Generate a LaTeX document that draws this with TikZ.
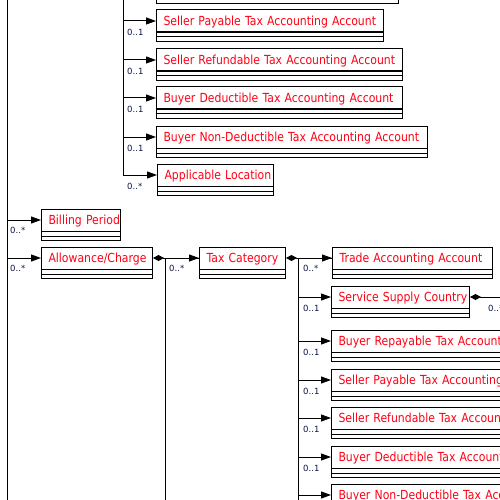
\documentclass[tikz,border=0pt]{standalone}
\usepackage{fontspec}
\setmainfont{DejaVu Sans}
\newfontfamily\clsfamily[FakeStretch=0.87]{DejaVu Sans}
\usetikzlibrary{arrows.meta,calc}
\definecolor{clsred}{RGB}{255,0,20}
\definecolor{multc}{RGB}{10,20,70}
\tikzset{
  ln/.style={line width=1pt, draw=black},
  cls/.style={ln, text=clsred, font=\clsfamily\fontsize{12.5}{14}\selectfont, anchor=west,
    minimum height=22pt, inner ysep=0pt, inner xsep=7pt, align=left,
    text height=9pt, text depth=0pt},
  conn/.style={ln, -{Triangle[length=10pt,width=7pt]}},
  comp/.style={ln, {Diamond[length=11pt,width=6pt]}-},
  mult/.style={text=multc, font=\fontsize{8.5}{9}\selectfont, anchor=west, inner sep=0pt},
}
\newcommand{\umlcls}[5]{%
  \node[cls, minimum width=#4pt, text width=#4pt-14pt] (#1) at (#2,#3) {\mbox{#5}};
  \draw[ln] (#1.south west) rectangle ++(#4,9);
  \draw[ln] ([yshift=-4.5pt]#1.south west) -- ++(#4,0);
}
\begin{document}
\begin{tikzpicture}[x=1pt,y=-1pt]
\useasboundingbox (0,0) rectangle (500,500);
\clip (0,0) rectangle (500,500);

% ---- top group ----
\umlcls{tBR}{156}{-17}{242}{Buyer Repayable Tax Accounting Account}
\umlcls{tSP}{156}{21}{227}{Seller Payable Tax Accounting Account}
\umlcls{tSR}{156}{60}{246}{Seller Refundable Tax Accounting Account}
\umlcls{tBD}{156}{98}{246}{Buyer Deductible Tax Accounting Account}
\umlcls{tBN}{156}{137}{271}{Buyer Non-Deductible Tax Accounting Account}
\umlcls{tAL}{157}{175}{116}{Applicable Location}
\coordinate (tbusTop) at (123,-10);
\coordinate (tbusBot) at (123,175);
\draw[ln] (tbusTop) -- (tbusBot);
\foreach \n/\y in {tBR/-17,tSP/21,tSR/60,tBD/98,tBN/137,tAL/175}{
  \coordinate (j\n) at (123,\y);
  \draw[conn] (j\n) -- (\n.west);
}
\node[mult] (mtSP) at (127,32) {0..1};
\node[mult] (mtSR) at (127,71) {0..1};
\node[mult] (mtBD) at (127,109) {0..1};
\node[mult] (mtBN) at (127,148) {0..1};
\node[mult] (mtAL) at (127,186) {0..*};

% ---- left bus ----
\coordinate (lbusTop) at (7,-5);
\coordinate (lbusBot) at (7,505);
\draw[ln] (lbusTop) -- (lbusBot);
\umlcls{BP}{41}{220}{79}{Billing Period}
\umlcls{AC}{41}{258}{111}{Allowance/Charge}
\coordinate (jBP) at (7,220);
\coordinate (jAC) at (7,258);
\draw[conn] (jBP) -- (BP.west);
\draw[conn] (jAC) -- (AC.west);
\node[mult] (mBP) at (10,230) {0..*};
\node[mult] (mAC) at (10,268) {0..*};

% ---- tax category ----
\umlcls{TC}{199}{258}{86}{Tax Category}
\draw[comp] (AC.east) -- (TC.west);
\draw[conn] (AC.east -| TC.west) ++(-12,0) -- (TC.west);
\coordinate (mbusTop) at (165,258);
\coordinate (mbusBot) at (165,505);
\draw[ln] (mbusTop) -- (mbusBot);
\node[mult] (mTC) at (169,268) {0..*};

% ---- right group ----
\umlcls{TAA}{332}{258}{160}{Trade Accounting Account}
\umlcls{SSC}{331}{297}{138}{Service Supply Country}
\umlcls{BR}{331}{341}{242}{Buyer Repayable Tax Accounting Account}
\umlcls{SP}{331}{380}{227}{Seller Payable Tax Accounting Account}
\umlcls{SR}{331}{418}{246}{Seller Refundable Tax Accounting Account}
\umlcls{BD}{331}{457}{246}{Buyer Deductible Tax Accounting Account}
\umlcls{BN}{331}{495}{271}{Buyer Non-Deductible Tax Accounting Account}
\draw[comp] (TC.east) -- (TAA.west);
\draw[conn] (TC.east -| TAA.west) ++(-12,0) -- (TAA.west);
\coordinate (rbusTop) at (298,258);
\coordinate (rbusBot) at (298,505);
\draw[ln] (rbusTop) -- (rbusBot);
\foreach \n/\y in {SSC/297,BR/341,SP/380,SR/418,BD/457,BN/495}{
  \coordinate (j\n) at (298,\y);
  \draw[conn] (j\n) -- (\n.west);
}
\node[mult] (mTAA) at (303,268) {0..*};
\node[mult] (mSSC) at (303,308) {0..1};
\node[mult] (mBR) at (303,352) {0..1};
\node[mult] (mSP) at (303,391) {0..1};
\node[mult] (mSR) at (303,429) {0..1};
\node[mult] (mBD) at (303,468) {0..1};

% ---- service supply country child ----
\coordinate (sscOut) at (505,297);
\draw[comp] (SSC.east) -- (sscOut);
\node[mult] (mSSCc) at (488,308) {0..*};
\end{tikzpicture}
\end{document}
